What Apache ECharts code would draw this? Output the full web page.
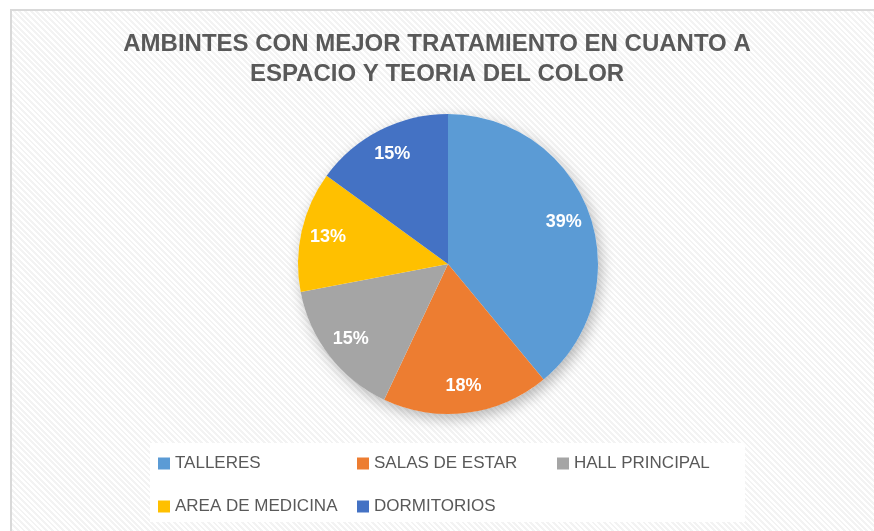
<!DOCTYPE html>
<html>
<head>
<meta charset="utf-8">
<script src="https://cdn.jsdelivr.net/npm/echarts@6/dist/echarts.min.js"></script>
<style>
  html, body { margin: 0; padding: 0; background: #fff; }
  .frame {
    position: absolute;
    left: 10px; top: 9px;
    width: 880px; height: 540px;
    border: 2px solid #d9d9d9;
    background: repeating-linear-gradient(45deg, #ffffff 0 2px, #f3f3f3 2px 4px);
  }
  #chart { position: absolute; left: 0; top: 0; width: 874px; height: 531px; }
</style>
</head>
<body>
<div class="frame"></div>
<div id="chart"></div>
<script>
const names = ['TALLERES', 'SALAS DE ESTAR', 'HALL PRINCIPAL', 'AREA DE MEDICINA', 'DORMITORIOS'];
const values = [39, 18, 15, 13, 15];
const colors = ['#5B9BD5', '#ED7D31', '#A5A5A5', '#FFC000', '#4472C4'];

// legend placement (excel-like grid)
const legendLeft = [158, 357, 557, 158, 357];
const legendTop = [455, 455, 455, 498, 498];

const center = [448, 264];
const radius = 150;

const myChart = echarts.init(document.getElementById('chart'));

const total = values.reduce((a, b) => a + b, 0);

const option = {
  backgroundColor: 'transparent',
  textStyle: { fontFamily: 'Liberation Sans' },
  title: {
    text: 'AMBINTES CON MEJOR TRATAMIENTO EN CUANTO A\nESPACIO Y TEORIA DEL COLOR',
    left: 'center',
    top: 24,
    textStyle: {
      fontFamily: 'Liberation Sans',
      fontSize: 24,
      fontWeight: 'bold',
      color: '#595959',
      lineHeight: 30
    }
  },
  graphic: [{
    type: 'rect',
    z: -1,
    shape: { x: 150, y: 443, width: 595, height: 79 },
    style: { fill: '#ffffff' }
  }],
  legend: names.map((n, i) => ({
    data: [{ name: n, itemStyle: { color: colors[i] } }],
    left: legendLeft[i],
    top: legendTop[i],
    padding: 0,
    itemWidth: 12,
    itemHeight: 12,
    icon: 'rect',
    selectedMode: false,
    textStyle: { fontFamily: 'Liberation Sans', fontSize: 17, color: '#595959' }
  })),
  series: [
    {
      // shadow under the whole pie
      type: 'pie',
      name: 'base',
      center: center,
      radius: radius,
      silent: true,
      z: 1,
      label: { show: false },
      itemStyle: {
        color: '#ffffff',
        shadowBlur: 14,
        shadowOffsetX: 3,
        shadowOffsetY: 5,
        shadowColor: 'rgba(0,0,0,0.28)'
      },
      data: [{ name: 'total', value: total }]
    },
    {
      type: 'pie',
      name: 'ambientes',
      center: center,
      radius: radius,
      startAngle: 90,
      clockwise: true,
      z: 2,
      label: { show: false },
      labelLine: { show: false },
      itemStyle: { borderWidth: 0 },
      data: names.map((n, i) => ({ name: n, value: values[i], itemStyle: { color: colors[i] } }))
    },
    {
      // transparent ring only used to push labels outwards
      type: 'pie',
      name: 'labels',
      center: center,
      radius: [radius * 0.6, radius],
      startAngle: 90,
      clockwise: true,
      silent: true,
      z: 3,
      percentPrecision: 0,
      itemStyle: { color: 'rgba(0,0,0,0)' },
      label: {
        show: true,
        position: 'inside',
        formatter: '{d}%',
        color: '#ffffff',
        fontFamily: 'Liberation Sans',
        fontWeight: 'bold',
        fontSize: 18
      },
      labelLine: { show: false },
      emphasis: { disabled: true },
      data: names.map((n, i) => ({ name: n, value: values[i] }))
    }
  ]
};

myChart.setOption(option);

window.addEventListener('resize', () => {
  myChart.resize();
});
</script>
</body>
</html>
